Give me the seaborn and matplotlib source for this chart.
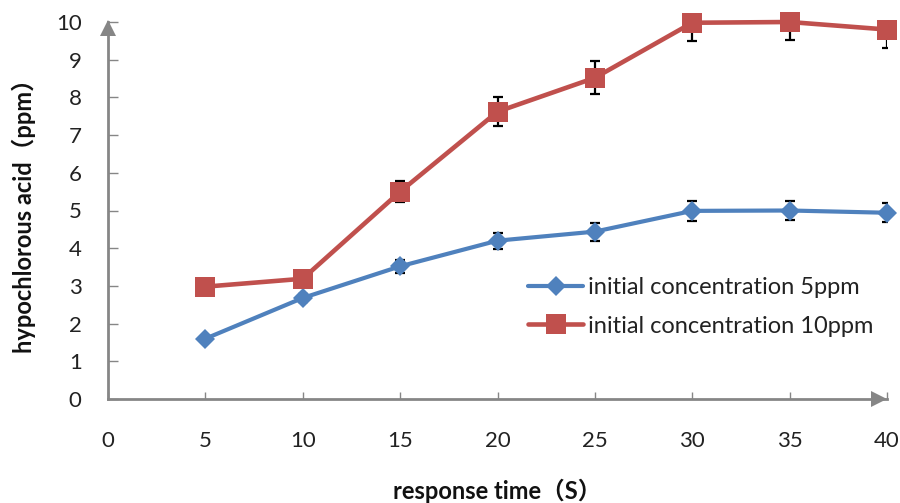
import matplotlib
matplotlib.use("Agg")
import matplotlib.pyplot as plt
import seaborn as sns
import pandas as pd
import numpy as np

time_s = [5, 10, 15, 20, 25, 30, 35, 40]
conc_5ppm = [1.6, 2.68, 3.52, 4.2, 4.44, 4.99, 5.0, 4.94]
err_5ppm = [0.0, 0.1, 0.18, 0.21, 0.24, 0.26, 0.26, 0.25]
conc_10ppm = [2.98, 3.19, 5.5, 7.62, 8.52, 9.98, 10.0, 9.8]
err_10ppm = [0.0, 0.1, 0.27, 0.38, 0.44, 0.48, 0.47, 0.49]
series_names = ["initial concentration 5ppm", "initial concentration 10ppm"]
x_ticks = [0, 5, 10, 15, 20, 25, 30, 35, 40]
y_ticks = [0, 1, 2, 3, 4, 5, 6, 7, 8, 9, 10]

sns.set_theme(style="white")
plt.rcParams['font.family'] = ['Lato', 'Noto Sans CJK SC', 'DejaVu Sans']

blue = "#4F81BD"
red = "#C0504D"
gray = "#868686"

fig = plt.figure(figsize=(9, 5.03), dpi=100)
ax = fig.add_axes([108/900, 1 - 399/503, (887-108)/900, (399-22)/503])

# error bars (clipped to axes)
ax.errorbar(time_s, conc_5ppm, yerr=err_5ppm, fmt='none', ecolor='black',
            elinewidth=1.6, capsize=3.6, capthick=1.6, zorder=2)
ax.errorbar(time_s, conc_10ppm, yerr=err_10ppm, fmt='none', ecolor='black',
            elinewidth=1.6, capsize=3.6, capthick=1.6, zorder=2)

df5 = pd.DataFrame({"t": time_s, "v": conc_5ppm})
df10 = pd.DataFrame({"t": time_s, "v": conc_10ppm})
sns.lineplot(data=df5, x="t", y="v", ax=ax, color=blue, marker="D", markersize=10.5,
             markeredgewidth=0, linewidth=3, label=series_names[0], clip_on=False, zorder=3)
sns.lineplot(data=df10, x="t", y="v", ax=ax, color=red, marker="s", markersize=14,
             markeredgewidth=0, linewidth=3.3, label=series_names[1], clip_on=False, zorder=3)

ax.set_xlim(0, 40)
ax.set_ylim(0, 10)
ax.set_xticks(x_ticks)
ax.set_yticks(y_ticks)
ax.set_xticklabels([str(v) for v in x_ticks], fontsize=16, color="#222222")
ax.set_yticklabels([str(v) for v in y_ticks], fontsize=16, color="#222222")

for s in ["top", "right"]:
    ax.spines[s].set_visible(False)
for s in ["left", "bottom"]:
    ax.spines[s].set_color(gray)
    ax.spines[s].set_linewidth(2)

ax.tick_params(axis='y', direction='in', length=7, width=1, color=gray, pad=19, left=True)
ax.tick_params(axis='x', direction='in', length=5, width=1, color=gray, pad=23, bottom=True)

# arrowheads
ax.plot(0, 0.985, marker="^", markersize=11, color=gray, transform=ax.transAxes, clip_on=False,
        markeredgewidth=0, zorder=1)
ax.plot(0.99, 0, marker=">", markersize=11, color=gray, transform=ax.transAxes, clip_on=False,
        markeredgewidth=0, zorder=1)

ax.set_xlabel("response time（S）", fontsize=17, fontweight="bold", labelpad=20, color="#111111")
ax.set_ylabel("hypochlorous acid（ppm）", fontsize=17, fontweight="bold", labelpad=14, color="#111111")

leg = ax.legend(loc="upper left", bbox_to_anchor=((528-108)/779, 1 - (277-22)/377),
                frameon=False, fontsize=17, handlelength=2.35, handletextpad=0.2,
                labelspacing=0.75, borderpad=0, borderaxespad=0)
for t in leg.get_texts():
    t.set_color("#222222")

fig.savefig("out.png", dpi=100)
